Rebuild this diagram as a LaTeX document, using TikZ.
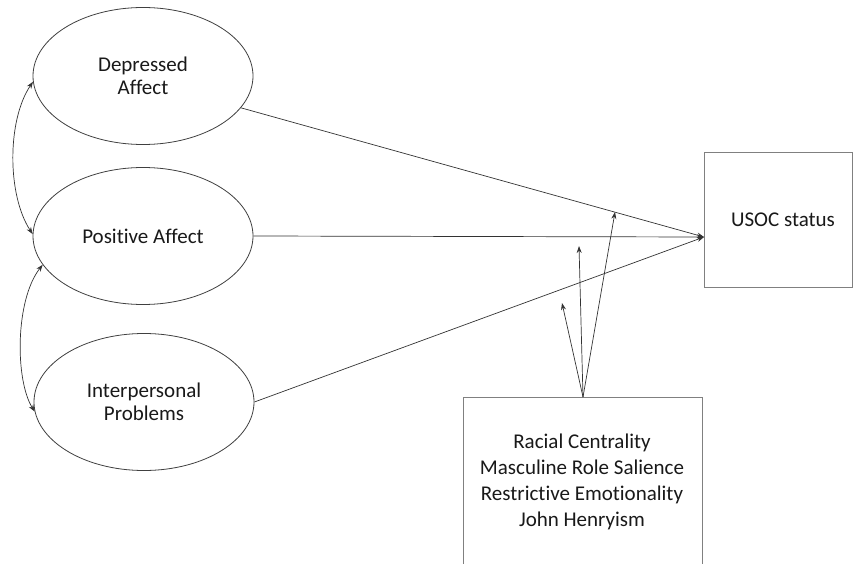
\documentclass[tikz,border=0pt]{standalone}
\usepackage{fontspec}
\setmainfont{Carlito}[Ligatures=NoCommon]
\usetikzlibrary{arrows.meta,shapes.geometric}
\begin{document}
\begin{tikzpicture}[x=1pt,y=-1pt,
  latent/.style={draw=black!75, line width=0.8pt, ellipse, minimum width=220pt, minimum height=137pt, align=center, font=\fontsize{21}{23}\selectfont, text=black!90, inner sep=0pt},
  obsbox/.style={draw=black!50, line width=0.8pt, rectangle, inner sep=0pt, align=center, text=black!90},
  pth/.style={draw=black!80, line width=0.7pt, -{Stealth[length=7pt,width=5pt]}},
  cov/.style={draw=black!80, line width=0.7pt, {Stealth[length=7pt,width=5pt]}-{Stealth[length=7pt,width=5pt]}}]
\useasboundingbox (0,0) rectangle (856,564);
\clip (0,0) rectangle (856,564);
\fill[white] (0,0) rectangle (856,564);
\node[latent] (da) at (143,76) {Depressed\\Affect};
\node[latent] (pa) at (143,236) {Positive Affect};
\node[latent] (ip) at (144,402) {Interpersonal\\Problems};
\node[obsbox, minimum width=148pt, minimum height=135pt] (usoc) at (778,219.5) {};
\node[font=\fontsize{21}{23}\selectfont, text=black!90] (usoct) at (783,220) {USOC status};
\node[obsbox, minimum width=239pt, minimum height=190pt] (mod) at (582.5,492) {};
\node[font=\fontsize{21}{26}\selectfont, align=center, text=black!90] (modt) at (582,482) {Racial Centrality\\Masculine Role Salience\\Restrictive Emotionality\\John Henryism};
\coordinate (tgt) at (704,237);
\coordinate (src) at (583,397);
\coordinate (m1) at (562,303);
\coordinate (m2) at (579,246);
\coordinate (m3) at (615,212);
\draw[pth] (da.-18) -- (tgt);
\draw[pth] (pa.east) -- (tgt);
\draw[pth] (ip.east) -- (tgt);
\draw[pth] (src) -- (m1);
\draw[pth] (src) -- (m2);
\draw[pth] (src) -- (m3);
\draw[cov] (da.183) .. controls (7,120) and (7,195) .. (pa.179);
\draw[cov] (pa.196) .. controls (15,300) and (15,380) .. (ip.185);
\end{tikzpicture}
\end{document}
